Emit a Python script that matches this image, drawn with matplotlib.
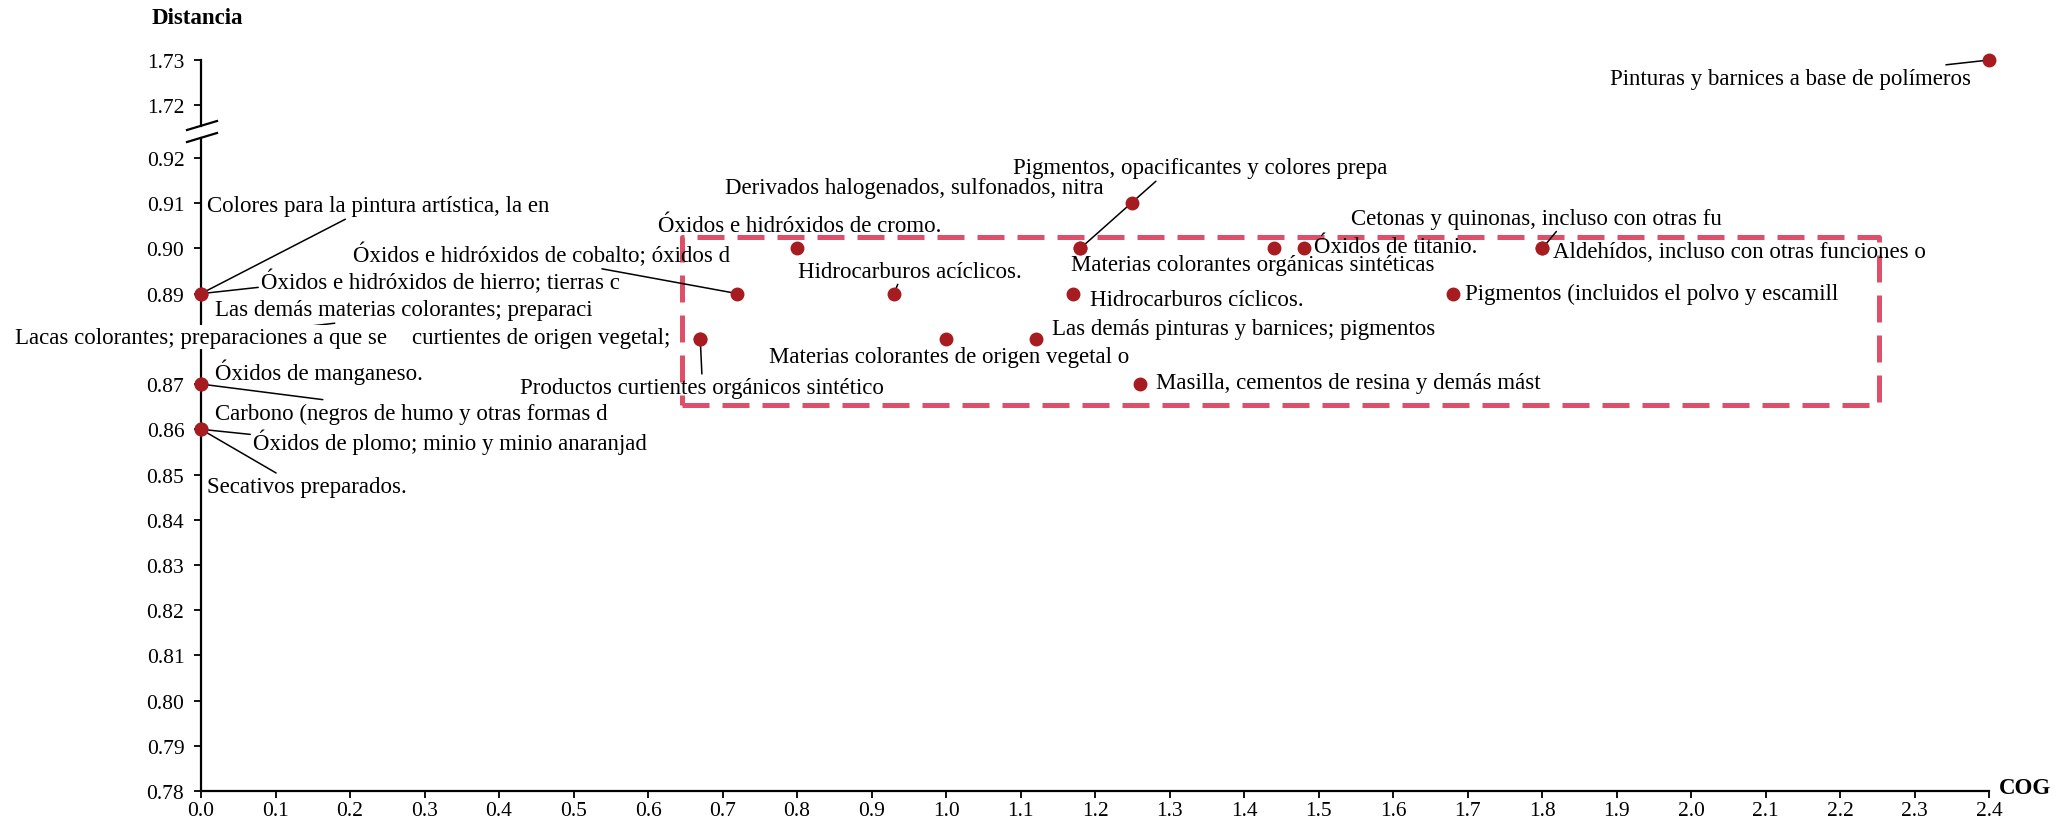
import matplotlib
matplotlib.use('Agg')
import matplotlib.pyplot as plt
from matplotlib.patches import Rectangle
from matplotlib.lines import Line2D

plt.rcParams['font.family'] = ['Liberation Serif', 'DejaVu Serif']

# data: COG (x) and distancia (y) per product
cog = [0.00, 0.00, 0.00, 0.00, 0.00, 0.00, 0.00, 0.00,
       0.67, 0.67, 0.72, 0.80, 0.93, 1.00, 1.12, 1.17, 1.18, 1.18,
       1.25, 1.26, 1.44, 1.48, 1.80, 1.80, 1.68, 2.40]
dist = [0.89, 0.89, 0.88, 0.88, 0.87, 0.87, 0.86, 0.86,
        0.88, 0.88, 0.89, 0.90, 0.89, 0.88, 0.88, 0.89, 0.90, 0.90,
        0.91, 0.87, 0.90, 0.90, 0.90, 0.90, 0.89, 1.73]
names = [
    'Colores para la pintura artística, la en',
    'Óxidos e hidróxidos de hierro; tierras c',
    'Las demás materias colorantes; preparaci',
    'Lacas colorantes; preparaciones a que se',
    'Óxidos de manganeso.',
    'Carbono (negros de humo y otras formas d',
    'Óxidos de plomo; minio y minio anaranjad',
    'Secativos preparados.',
    'curtientes de origen vegetal;',
    'Productos curtientes orgánicos sintético',
    'Óxidos e hidróxidos de cobalto; óxidos d',
    'Óxidos e hidróxidos de cromo.',
    'Hidrocarburos acíclicos.',
    'Materias colorantes de origen vegetal o',
    'Las demás pinturas y barnices; pigmentos',
    'Hidrocarburos cíclicos.',
    'Materias colorantes orgánicas sintéticas',
    'Pigmentos, opacificantes y colores prepa',
    'Derivados halogenados, sulfonados, nitra',
    'Masilla, cementos de resina y demás mást',
    '',
    'Óxidos de titanio.',
    'Cetonas y quinonas, incluso con otras fu',
    'Aldehídos, incluso con otras funciones o',
    'Pigmentos (incluidos el polvo y escamill',
    'Pinturas y barnices a base de polímeros',
]

# label placement: (text x, text y, ha, leader relpos or None)
label_pos = [
    (0.008, 0.9094, 'left', (0.42, 0)),
    (0.0805, 0.8928, 'left', (0, 0.25)),
    (0.0188, 0.8864, 'left', (0.38, 0)),
    (0.0, 0.8804, 'center', None),
    (0.0188, 0.8729, 'left', None),
    (0.0188, 0.8636, 'left', (0.33, 1)),
    (0.0698, 0.8574, 'left', (0, 0.75)),
    (0.008, 0.8474, 'left', (0.37, 1)),
    (0.6294, 0.8804, 'right', None),
    (0.6724, 0.8693, 'center', (0.5, 1)),
    (0.71, 0.8988, 'right', (0.62, 0)),
    (0.8039, 0.9050, 'center', None),
    (0.9516, 0.8950, 'center', (0.45, 0)),
    (1.004, 0.8760, 'center', None),
    (1.142, 0.8824, 'left', None),
    (1.193, 0.8886, 'left', None),
    (1.1676, 0.8965, 'left', None),
    (1.0898, 0.9178, 'left', (0.39, 0)),
    (1.2119, 0.9134, 'right', None),
    (1.2817, 0.8704, 'left', None),
    None,
    (1.4938, 0.9005, 'left', None),
    (1.5434, 0.9067, 'left', (0.56, 0)),
    (1.8145, 0.8994, 'left', None),
    (1.6964, 0.8901, 'left', None),
    (2.376, 1.7260, 'right', (0.86, 1)),
]

fs = 16.5
tfs = 15.5
dot = '#a61c21'
box_col = '#de5069'

fig = plt.figure(figsize=(20.69, 8.28), dpi=100)
left, width = 201 / 2069, (1989.3 - 201) / 2069
ax = fig.add_axes([left, 1 - 792 / 828, width, (792 - 139) / 828])
ax_top = fig.add_axes([left, 1 - 127 / 828, width, 66 / 828], sharex=ax)

ax.set_ylim(0.78, 0.92 + 20 / 4520)
ax_top.set_ylim(1.73 - 66 / 4520, 1.73)
ax.set_xlim(0, 2.4)

for a in (ax, ax_top):
    a.spines['top'].set_visible(False)
    a.spines['right'].set_visible(False)
    a.spines['left'].set_linewidth(1.6)
    a.spines['bottom'].set_linewidth(1.6)
    a.tick_params(axis='both', direction='out', length=5, width=1.3,
                  labelsize=tfs, pad=7)
    a.patch.set_alpha(0)

ax_top.spines['bottom'].set_visible(False)
ax_top.tick_params(axis='x', bottom=False, labelbottom=False)
ax_top.set_yticks([1.72, 1.73])
ax_top.set_yticklabels(['1.72', '1.73'])

yt = [round(0.78 + 0.01 * i, 2) for i in range(15)]
ax.set_yticks(yt)
ax.set_yticklabels(['%.2f' % v for v in yt])
xt = [round(0.1 * i, 1) for i in range(25)]
ax.set_xticks(xt)
ax.set_xticklabels(['%.1f' % v for v in xt])
ax.tick_params(axis='x', pad=2)

# highlighted cluster
ax.add_patch(Rectangle((0.6456, 0.8654), 2.252 - 0.6456, 0.9026 - 0.8654,
                       fill=False, edgecolor=box_col, lw=3.6,
                       linestyle=(0, (5.4, 2.6)), joinstyle='round', zorder=2))

for xv, yv, nm, pos in zip(cog, dist, names, label_pos):
    target = ax_top if yv > 1 else ax
    target.plot(xv, yv, 'o', color=dot, markersize=9, zorder=5, clip_on=False)
    if pos is None:
        continue
    tx, ty, ha, rel = pos
    kw = dict(fontsize=fs, ha=ha, va='center', zorder=3, annotation_clip=False)
    if nm.startswith('Lacas'):
        kw['zorder'] = 6
        kw['bbox'] = dict(facecolor='white', edgecolor='none', pad=1)
    if rel is not None:
        kw['arrowprops'] = dict(arrowstyle='-', color='black', lw=1.1,
                                shrinkA=0, shrinkB=0, relpos=rel)
    target.annotate(nm, xy=(xv, yv), xytext=(tx, ty), textcoords='data', **kw)

# axis break marks
for py in (127, 139):
    fig.add_artist(Line2D([187 / 2069, 217 / 2069],
                          [1 - (py + 4) / 828, 1 - (py - 5) / 828],
                          color='black', lw=1.6))

fig.text(152 / 2069, 1 - 18 / 828, 'Distancia', fontsize=fs, fontweight='bold',
         ha='left', va='center')
fig.text(1999 / 2069, 1 - 789 / 828, 'COG', fontsize=fs, fontweight='bold',
         ha='left', va='center')

fig.savefig('out.png', dpi=100)
